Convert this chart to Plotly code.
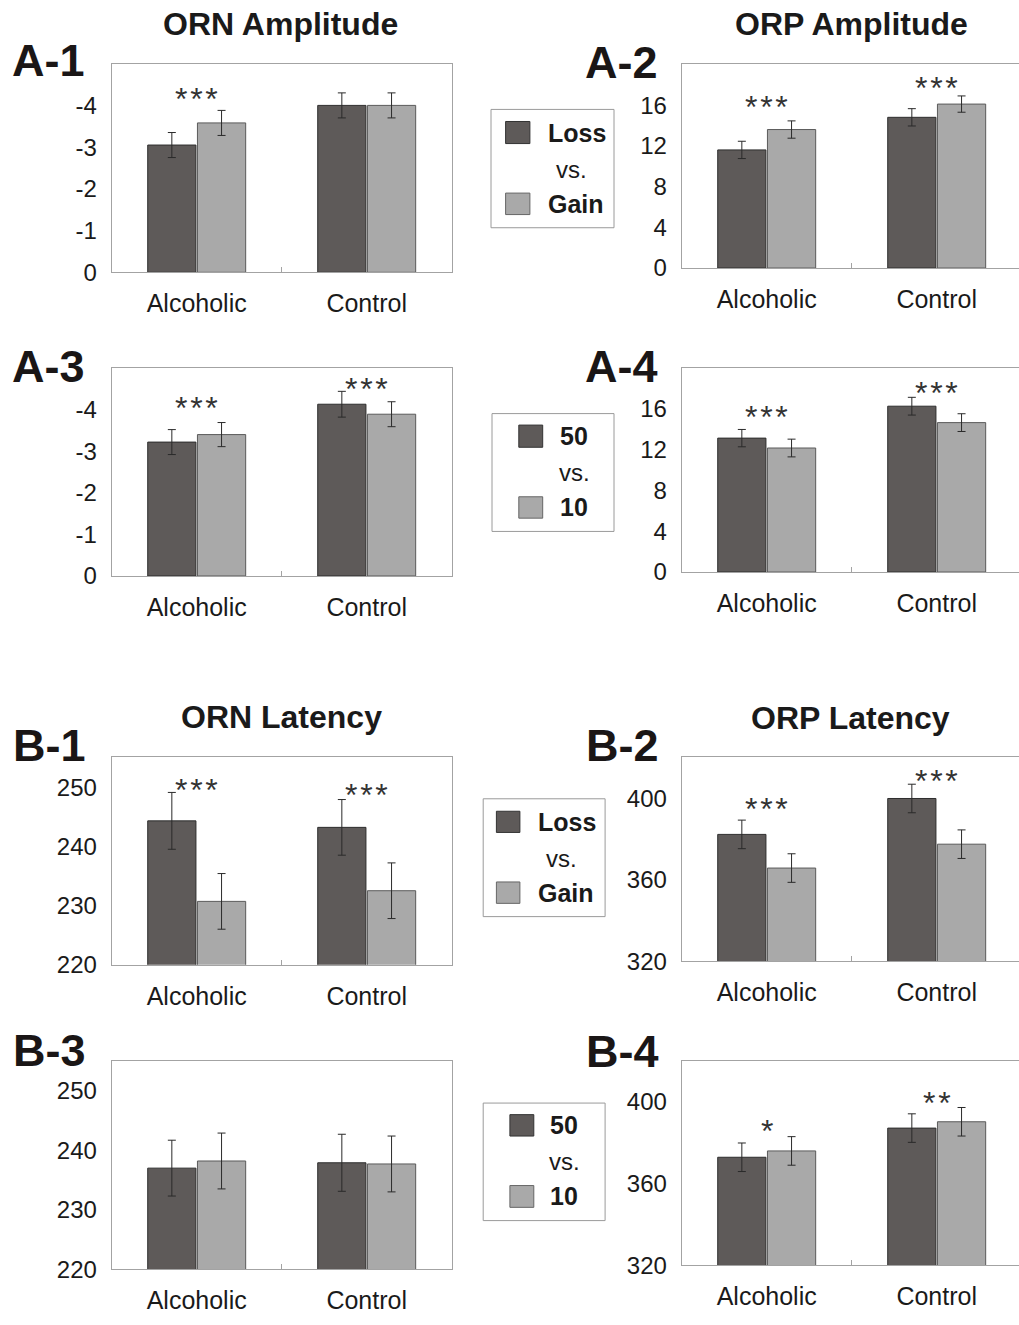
import plotly.graph_objects as go

W, H = 1019, 1325
FONT = "Arial, Liberation Sans, sans-serif"

# ---------------- data ----------------
categories = ["Alcoholic", "Control"]

orn_amp_loss = [-3.05, -4.00]
orn_amp_loss_err = [0.30, 0.30]
orn_amp_gain = [-3.58, -4.00]
orn_amp_gain_err = [0.30, 0.30]

orp_amp_loss = [11.6, 14.8]
orp_amp_loss_err = [0.85, 0.85]
orp_amp_gain = [13.6, 16.1]
orp_amp_gain_err = [0.85, 0.80]

orn_amp_50 = [-3.22, -4.13]
orn_amp_50_err = [0.30, 0.31]
orn_amp_10 = [-3.40, -3.89]
orn_amp_10_err = [0.29, 0.30]

orp_amp_50 = [13.13, 16.26]
orp_amp_50_err = [0.85, 0.87]
orp_amp_10 = [12.16, 14.65]
orp_amp_10_err = [0.87, 0.87]

orn_lat_loss = [244.3, 243.2]
orn_lat_loss_err = [4.8, 4.7]
orn_lat_gain = [230.7, 232.5]
orn_lat_gain_err = [4.7, 4.7]

orp_lat_loss = [382.3, 399.9]
orp_lat_loss_err = [7.0, 7.0]
orp_lat_gain = [365.8, 377.5]
orp_lat_gain_err = [7.0, 7.0]

orn_lat_50 = [237.0, 237.9]
orn_lat_50_err = [4.7, 4.8]
orn_lat_10 = [238.2, 237.7]
orn_lat_10_err = [4.7, 4.7]

orp_lat_50 = [372.9, 387.2]
orp_lat_50_err = [7.0, 7.0]
orp_lat_10 = [376.0, 390.3]
orp_lat_10_err = [7.0, 7.0]

orn_amp_ticks = [0, -1, -2, -3, -4]
orn_amp_ticktext = ["0", "-1", "-2", "-3", "-4"]
orp_amp_ticks = [0, 4, 8, 12, 16]
orn_lat_ticks = [220, 230, 240, 250]
orp_lat_ticks = [320, 360, 400]

# significance stars: (category, label, y in data units)
stars_a1 = [("Alcoholic", "***", -4.33)]
stars_a2 = [("Alcoholic", "***", 16.5), ("Control", "***", 18.36)]
stars_a3 = [("Alcoholic", "***", -4.21), ("Control", "***", -4.66)]
stars_a4 = [("Alcoholic", "***", 15.85), ("Control", "***", 18.27)]
stars_b1 = [("Alcoholic", "***", 250.7), ("Control", "***", 249.9)]
stars_b2 = [("Alcoholic", "***", 398.4), ("Control", "***", 411.7)]
stars_b3 = []
stars_b4 = [("Alcoholic", "*", 389.0), ("Control", "**", 402.7)]

panel_titles = ["ORN Amplitude", "ORP Amplitude", "ORN Latency", "ORP Latency"]
panel_labels = ["A-1", "A-2", "A-3", "A-4", "B-1", "B-2", "B-3", "B-4"]
legend_pairs = [("Loss", "Gain"), ("50", "10"), ("Loss", "Gain"), ("50", "10")]

# ---------------- styling / layout geometry (pixels) ----------------
DARK = "#5e5a59"
LIGHT = "#a9a9a9"
FRAME = "#a3a3a3"
TEXT = "#1a1a1a"

def fx(p):
    return p / W

def fy(p):
    return 1 - p / H

panels = [
    dict(s=(orn_amp_loss, orn_amp_loss_err, orn_amp_gain, orn_amp_gain_err), rng=[0, -5],
         tv=orn_amp_ticks, tt=orn_amp_ticktext, stars=stars_a1, box=(111.7, 451.7, 64.3, 275)),
    dict(s=(orp_amp_loss, orp_amp_loss_err, orp_amp_gain, orp_amp_gain_err), rng=[0, 20],
         tv=orp_amp_ticks, tt=None, stars=stars_a2, box=(681.7, 1019, 65, 270.7)),
    dict(s=(orn_amp_50, orn_amp_50_err, orn_amp_10, orn_amp_10_err), rng=[0, -5],
         tv=orn_amp_ticks, tt=orn_amp_ticktext, stars=stars_a3, box=(111.7, 451.7, 371.7, 581.7)),
    dict(s=(orp_amp_50, orp_amp_50_err, orp_amp_10, orp_amp_10_err), rng=[0, 20],
         tv=orp_amp_ticks, tt=None, stars=stars_a4, box=(681.7, 1019, 371.7, 577.7)),
    dict(s=(orn_lat_loss, orn_lat_loss_err, orn_lat_gain, orn_lat_gain_err), rng=[220, 255],
         tv=orn_lat_ticks, tt=None, stars=stars_b1, box=(111.7, 451.7, 765, 974.3)),
    dict(s=(orp_lat_loss, orp_lat_loss_err, orp_lat_gain, orp_lat_gain_err), rng=[320, 420],
         tv=orp_lat_ticks, tt=None, stars=stars_b2, box=(681.7, 1019, 765, 971)),
    dict(s=(orn_lat_50, orn_lat_50_err, orn_lat_10, orn_lat_10_err), rng=[220, 255],
         tv=orn_lat_ticks, tt=None, stars=stars_b3, box=(111.7, 451.7, 1071.7, 1281.7)),
    dict(s=(orp_lat_50, orp_lat_50_err, orp_lat_10, orp_lat_10_err), rng=[320, 420],
         tv=orp_lat_ticks, tt=None, stars=stars_b4, box=(681.7, 1019, 1071.7, 1277.7)),
]

label_pos = [(10, 61), (583, 63), (10, 370), (583, 370),
             (11, 752.5), (584, 753), (11, 1061), (584, 1061.7)]
title_pos = [(280, 24), (851, 24), (281, 724), (850, 725)]

legend_geo = [
    dict(box=(491, 614, 110.5, 230), sq=(505.6, 529.9), sq1=(122.7, 145), sq2=(195, 216.7),
         lx=545.6, vsx=571, vsy=171),
    dict(box=(492, 614, 417.7, 536.7), sq=(518.8, 542.7), sq1=(429.3, 451.7), sq2=(501.7, 523.3),
         lx=558, vsx=574, vsy=476.7),
    dict(box=(483.2, 605.1, 806.7, 925.7), sq=(496.4, 519.9), sq1=(819.3, 840.7), sq2=(890.7, 912.3),
         lx=535.6, vsx=561.3, vsy=866.7),
    dict(box=(483.2, 605.1, 1114, 1232.7), sq=(509.9, 533.8), sq1=(1125.7, 1147.3), sq2=(1197.3, 1219.3),
         lx=548.4, vsx=564.8, vsy=1173.3),
]

fig = go.Figure()
layout = dict(
    width=W, height=H, margin=dict(l=0, r=0, t=0, b=0),
    paper_bgcolor="white", plot_bgcolor="white",
    barmode="group", bargap=0.415, bargroupgap=0.03,
    showlegend=False, font=dict(family=FONT, color=TEXT),
)
annotations = []
shapes = []

for i, p in enumerate(panels):
    n = i + 1
    xa = "x" if n == 1 else f"x{n}"
    ya = "y" if n == 1 else f"y{n}"
    v1, e1, v2, e2 = p["s"]
    for vals, errs, col, lc in ((v1, e1, DARK, "#2e2e2e"), (v2, e2, LIGHT, "#5a5a5a")):
        fig.add_trace(go.Bar(
            x=categories, y=vals, xaxis=xa, yaxis=ya,
            marker=dict(color=col, line=dict(color=lc, width=1)),
            error_y=dict(type="data", array=errs, color="#2a2a2a", thickness=1, width=4),
        ))
    x0, x1, y0, y1 = p["box"]
    right_side = x1 >= 1019
    xr_end = -0.5 + (x1 - x0) / 170.0 if right_side else 1.5
    layout["xaxis" if n == 1 else f"xaxis{n}"] = dict(
        domain=[fx(x0), fx(x1)], anchor=ya, range=[-0.5, xr_end],
        type="category", showline=True, linecolor=FRAME, linewidth=1, mirror=True,
        ticks="inside", tickson="boundaries", ticklen=5, tickcolor=FRAME,
        showgrid=False, zeroline=False, fixedrange=True,
        tickfont=dict(family=FONT, size=25, color=TEXT), ticklabelstandoff=9,
    )
    ydict = dict(
        domain=[fy(y1), fy(y0)], anchor=xa, range=p["rng"],
        showline=True, linecolor=FRAME, linewidth=1, mirror=False if right_side else True,
        showgrid=False, zeroline=False, ticks="", tickvals=p["tv"],
        tickfont=dict(family=FONT, size=24, color=TEXT), ticklabelstandoff=9, fixedrange=True,
    )
    if p["tt"] is not None:
        ydict["ticktext"] = p["tt"]
    layout["yaxis" if n == 1 else f"yaxis{n}"] = ydict
    for cat, txt, yv in p["stars"]:
        annotations.append(dict(
            x=cat, y=yv, xref=xa, yref=ya, text="\u200a".join(txt), showarrow=False,
            font=dict(family=FONT, size=32, color="#333333"), xanchor="center", yanchor="middle",
            yshift=-7,
        ))

for lab, (lx, ly) in zip(panel_labels, label_pos):
    annotations.append(dict(
        x=fx(lx), y=fy(ly), xref="paper", yref="paper", text=f"<b>{lab}</b>", showarrow=False,
        font=dict(family=FONT, size=45, color="#1a1616"), xanchor="left", yanchor="middle",
    ))

for t, (tx, ty) in zip(panel_titles, title_pos):
    annotations.append(dict(
        x=fx(tx), y=fy(ty), xref="paper", yref="paper", text=f"<b>{t}</b>", showarrow=False,
        font=dict(family=FONT, size=32, color="#1a1a1a"), xanchor="center", yanchor="middle",
    ))

for (l1, l2), g in zip(legend_pairs, legend_geo):
    bx0, bx1, by0, by1 = g["box"]
    shapes.append(dict(type="rect", xref="paper", yref="paper",
                       x0=fx(bx0), x1=fx(bx1), y0=fy(by1), y1=fy(by0),
                       line=dict(color="#9a9a9a", width=1), fillcolor="white", layer="below"))
    sx0, sx1 = g["sq"]
    for (sy0, sy1), col, lc, lab in ((g["sq1"], DARK, "#333333", l1), (g["sq2"], LIGHT, "#666666", l2)):
        shapes.append(dict(type="rect", xref="paper", yref="paper",
                           x0=fx(sx0), x1=fx(sx1), y0=fy(sy1), y1=fy(sy0),
                           line=dict(color=lc, width=1), fillcolor=col))
        annotations.append(dict(
            x=fx(g["lx"]), y=fy((sy0 + sy1) / 2), xref="paper", yref="paper", text=f"<b>{lab}</b>",
            showarrow=False, font=dict(family=FONT, size=25, color=TEXT), xanchor="left", yanchor="middle",
        ))
    annotations.append(dict(
        x=fx(g["vsx"]), y=fy(g["vsy"]), xref="paper", yref="paper", text="vs.",
        showarrow=False, font=dict(family=FONT, size=24, color=TEXT), xanchor="center", yanchor="middle",
    ))

layout["annotations"] = annotations
layout["shapes"] = shapes
fig.update_layout(**layout)
fig.write_html("out.html", config={"displayModeBar": False},
               post_script="document.body.style.margin='0';document.body.style.overflow='hidden';")
